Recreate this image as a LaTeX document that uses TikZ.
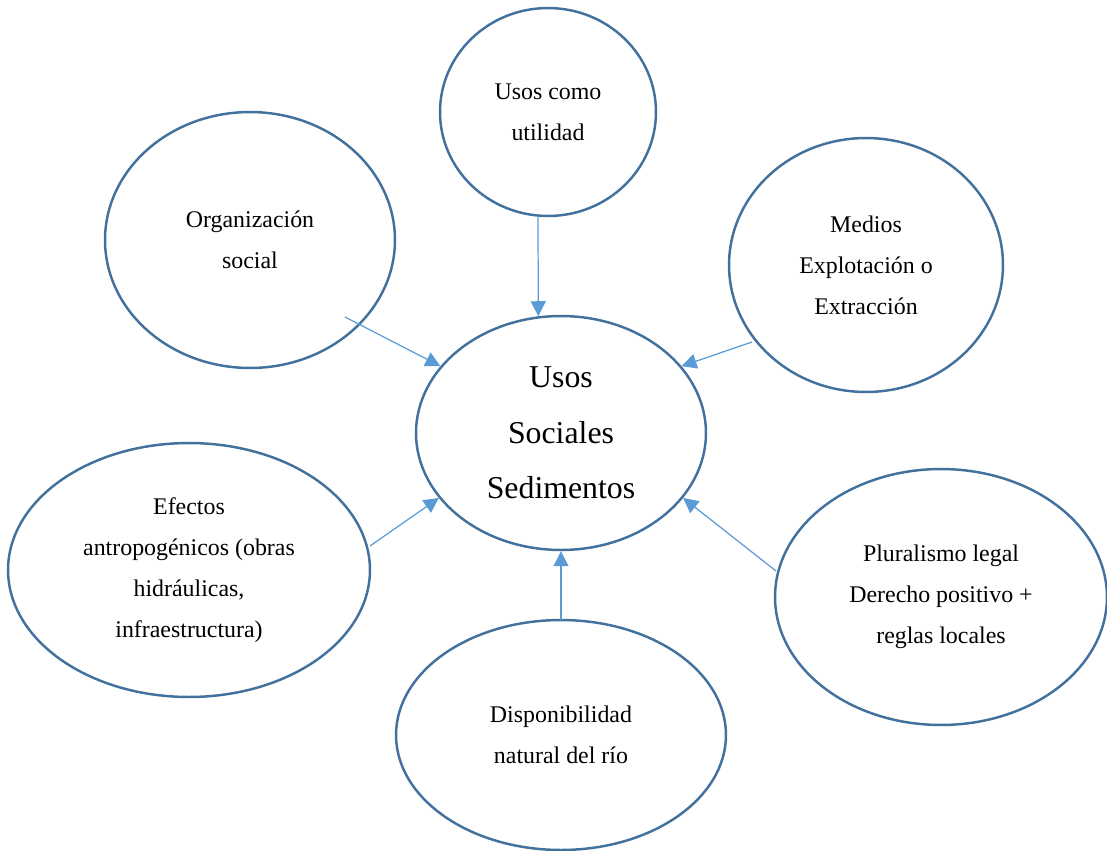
\documentclass[tikz,border=0pt]{standalone}
\usepackage{fontspec}
\setmainfont{Liberation Serif}
\usetikzlibrary{arrows.meta,shapes.geometric}
\definecolor{ringblue}{HTML}{41719C}
\definecolor{arrowblue}{HTML}{5B9BD5}
\tikzset{>/.tip={Triangle[length=0.3cm,width=0.3cm]}}

\begin{document}
\begin{tikzpicture}[x=0.02cm,y=-0.02cm,
  bubble/.style={ellipse,draw=ringblue,line width=1.4pt,inner sep=0pt,align=center,
    font=\fontsize{13.6}{23.3}\selectfont},
  link/.style={->,draw=arrowblue,line width=0.7pt}]
\useasboundingbox (0,0) rectangle (1107,850);
\node[bubble,minimum width=5.8cm,minimum height=4.68cm,
  font=\fontsize{18.1}{31.5}\selectfont] (c) at (561,433) {Usos\\Sociales\\Sedimentos};
\node[bubble,minimum width=4.32cm,minimum height=4.16cm] (u) at (548,112) {Usos como\\utilidad};
\node[bubble,minimum width=5.8cm,minimum height=5.12cm] (o) at (250,240) {Organización\\social};
\node[bubble,minimum width=5.48cm,minimum height=5.08cm] (m) at (866,265) {Medios\\Explotación o\\Extracción};
\node[bubble,minimum width=7.24cm,minimum height=5.08cm] (e) at (189,570) {Efectos\\antropogénicos (obras\\hidráulicas,\\infraestructura)};
\node[bubble,minimum width=6.6cm,minimum height=4.6cm] (d) at (561,735) {Disponibilidad\\natural del río};
\node[bubble,minimum width=6.64cm,minimum height=5.12cm] (p) at (941,597) {Pluralismo legal\\Derecho positivo +\\reglas locales};
% arrow starts
\coordinate (su) at (538,216);
\coordinate (so) at (345,317);
\coordinate (sm) at (752,342);
\coordinate (se) at (370,546);
\coordinate (sd) at (561,620);
\coordinate (sp) at (776,571);
\draw[link] (su) to (c.101);
\draw[link] (so) to (c.151);
\draw[link] (sm) to (c.29);
\draw[link] (se) to (c.208);
\draw[link] (sd) to (c.270);
\draw[link] (sp) to (c.332);
\end{tikzpicture}
\end{document}
